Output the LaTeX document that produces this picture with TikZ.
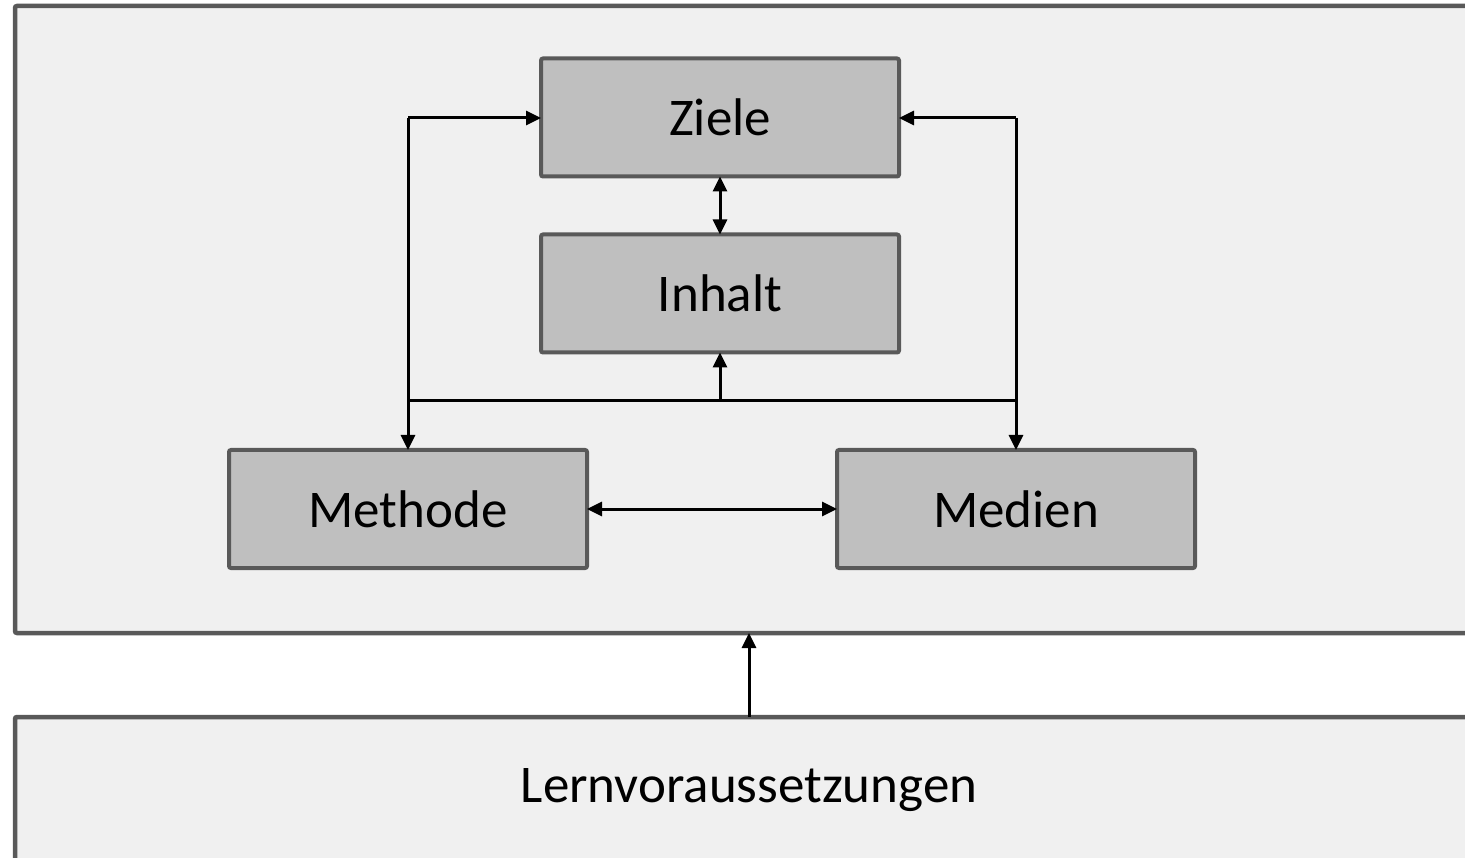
\documentclass[tikz,border=0pt]{standalone}
\usepackage{fontspec}
\setmainfont{Carlito}
\usetikzlibrary{arrows.meta}
\definecolor{frame}{HTML}{595959}
\definecolor{boxfill}{HTML}{BFBFBF}
\definecolor{bgfill}{HTML}{F0F0F0}
\tikzset{
  panel/.style={draw=frame, line width=4.5pt, fill=bgfill, rounded corners=2pt},
  elem/.style={draw=frame, line width=4pt, fill=boxfill, rounded corners=2pt,
    minimum width=358pt, minimum height=118pt, inner sep=0pt, outer sep=0pt,
    font=\fontsize{53}{60}\selectfont, text=black},
  conn/.style={line width=3pt, black},
  tip/.style={-{Triangle[length=15pt,width=14pt]}},
  tips/.style={{Triangle[length=15pt,width=14pt]}-{Triangle[length=15pt,width=14pt]}}
}
\begin{document}
\begin{tikzpicture}[x=1pt,y=-1pt]
\useasboundingbox (0,0) rectangle (1465,858);
\clip (0,0) rectangle (1465,858);
\fill[white] (0,0) rectangle (1465,858);
% panels
\draw[panel] (15,6) rectangle (1485,633);
\draw[panel] (15,717) rectangle (1485,880);
\coordinate (topbot) at (749,633);
\coordinate (lowtop) at (749,717);
\node[font=\fontsize{53}{60}\selectfont] (lv) at (749,790) {Lernvoraussetzungen};
% elements
\node[elem] (ziele) at (720,117.5) {Ziele};
\node[elem] (inhalt) at (720,293.5) {Inhalt};
\node[elem] (methode) at (408,509) {Methode};
\node[elem] (medien) at (1016,509) {Medien};
% junctions
\coordinate (jl) at (408,118);
\coordinate (jr) at (1016,118);
\coordinate (hl) at (408,401);
\coordinate (hm) at (720,401);
\coordinate (hr) at (1016,401);
% connectors
\draw[conn,tips] (ziele.south) -- (inhalt.north);
\draw[conn,tip] (jl) -- (ziele.west |- jl);
\draw[conn,tip] (jl) -- (methode.north);
\draw[conn,tip] (jr) -- (ziele.east |- jr);
\draw[conn,tip] (jr) -- (medien.north);
\draw[conn] (hl) -- (hr);
\draw[conn,tip] (hm) -- (inhalt.south);
\draw[conn,tips] (methode.east) -- (medien.west);
\draw[conn,tip] (lowtop) -- (topbot);
\end{tikzpicture}
\end{document}
